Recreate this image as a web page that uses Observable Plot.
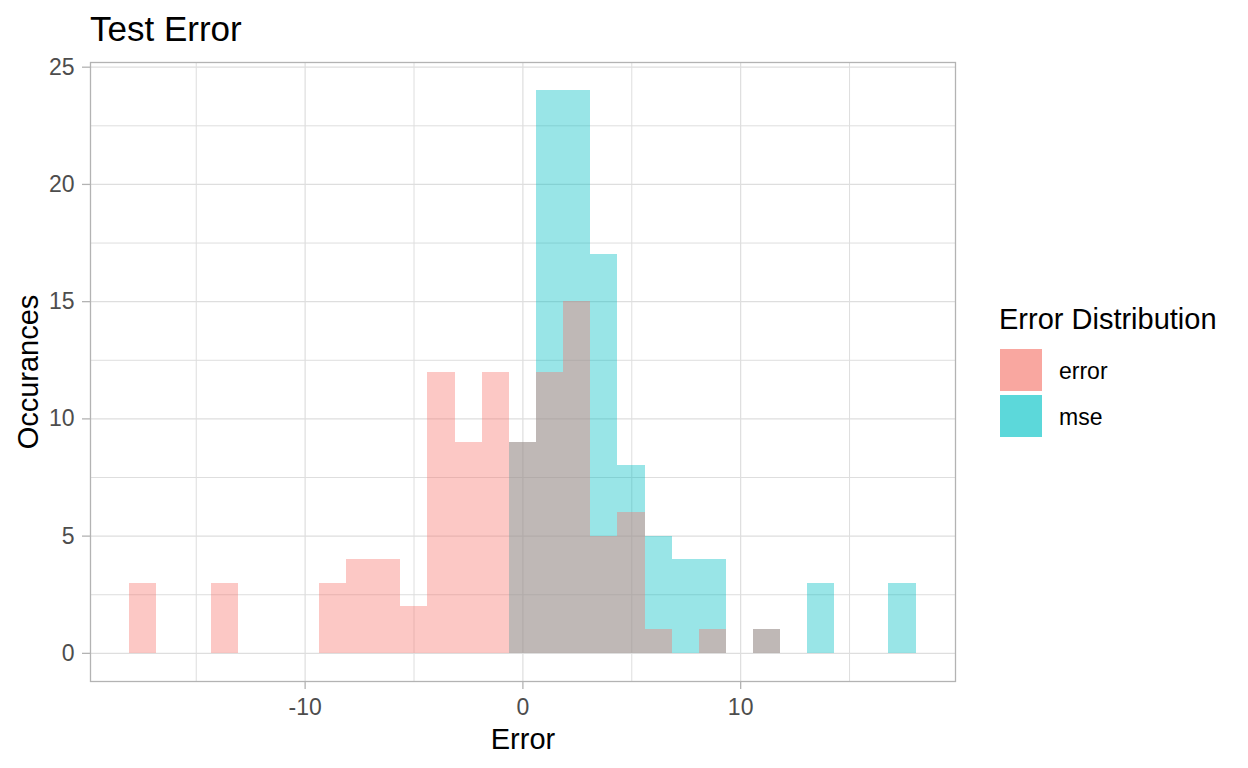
<!DOCTYPE html>
<html><head><meta charset="utf-8">
<script src="https://cdn.jsdelivr.net/npm/d3@7"></script>
<script src="https://cdn.jsdelivr.net/npm/@observablehq/plot@0.6"></script>
<style>
body{margin:0;background:#fff;font-family:"Liberation Sans",Arial,sans-serif;}
#wrap{position:relative;width:1248px;height:768px;overflow:hidden;}
#wrap svg{position:absolute;left:0;top:0;}
.title{position:absolute;left:90px;top:11px;font-size:35px;line-height:35px;color:#000;white-space:nowrap;}
.legend{position:absolute;left:999px;top:305px;}
.legend .ltitle{position:absolute;left:0;top:0;font-size:29px;line-height:29px;white-space:nowrap;color:#000;}
.legend .key{position:absolute;left:1px;width:42px;height:42px;}
.legend .lab{position:absolute;left:60px;font-size:23px;line-height:23px;color:#000;white-space:nowrap;}
</style></head>
<body><div id="wrap"></div>
<script>
// Histogram bin edges (29 bins)
const binEdges = [-18.05, -16.81, -15.56, -14.32, -13.07, -11.83, -10.58, -9.34, -8.09, -6.85,
  -5.60, -4.36, -3.11, -1.87, -0.62, 0.63, 1.87, 3.12, 4.36, 5.61,
  6.85, 8.10, 9.34, 10.59, 11.83, 13.08, 14.32, 15.57, 16.81, 18.06];
// counts per bin
const errorCounts = [3,0,0,3,0,0,0,3,4,4,2,12,9,12,9,12,15,5,6,1,0,1,0,1,0,0,0,0,0];
const mseCounts   = [0,0,0,0,0,0,0,0,0,0,0,0,0,0,9,24,24,17,8,5,4,4,0,1,0,3,0,0,3];
const seriesNames = ["error", "mse"];
const seriesColors = ["#F8766D", "#00BFC4"];
const legendColors = ["#F9A7A0", "#5CD8DA"];
const xTicks = [-10, 0, 10];
const xMinorGrid = [-15, -5, 5, 15];
const yTicks = [0, 5, 10, 15, 20, 25];
const yMinorGrid = [2.5, 7.5, 12.5, 17.5, 22.5];
const titleText = "Test Error";
const xLabel = "Error";
const yLabel = "Occurances";
const legendTitle = "Error Distribution";

function toRows(counts, name) {
  const rows = [];
  counts.forEach((c, i) => { if (c > 0) rows.push({series: name, x1: binEdges[i], x2: binEdges[i + 1], count: c}); });
  return rows;
}
const errorRows = toRows(errorCounts, seriesNames[0]);
const mseRows = toRows(mseCounts, seriesNames[1]);

const lo = binEdges[0], hi = binEdges[binEdges.length - 1];
const xpad = (hi - lo) * 0.05;
const ymax = d3.max([...errorCounts, ...mseCounts]);
const ypad = ymax * 0.05;

const gridColor = "#DEDEDE";
const fmt = d => String(d);
const plot = Plot.plot({
  width: 1248, height: 768,
  marginLeft: 90, marginRight: 293, marginTop: 62, marginBottom: 87,
  style: {fontFamily: "'Liberation Sans', Arial, sans-serif", fontSize: "23px", background: "transparent"},
  x: {domain: [lo - xpad, hi + xpad], axis: null},
  y: {domain: [-ypad, ymax + ypad], axis: null},
  marks: [
    Plot.gridX(xMinorGrid, {stroke: gridColor, strokeOpacity: 1, strokeWidth: 1}),
    Plot.gridX(xTicks, {stroke: gridColor, strokeOpacity: 1, strokeWidth: 1.2}),
    Plot.gridY(yMinorGrid, {stroke: gridColor, strokeOpacity: 1, strokeWidth: 1}),
    Plot.gridY(yTicks, {stroke: gridColor, strokeOpacity: 1, strokeWidth: 1.2}),
    Plot.rect(mseRows, {x1: "x1", x2: "x2", y1: 0, y2: "count", fill: seriesColors[1], fillOpacity: 0.4, inset: 0, shapeRendering: "crispEdges"}),
    Plot.rect(errorRows, {x1: "x1", x2: "x2", y1: 0, y2: "count", fill: seriesColors[0], fillOpacity: 0.4, inset: 0, shapeRendering: "crispEdges"}),
    Plot.frame({stroke: "#B3B3B3", strokeWidth: 1.3}),
    Plot.axisX(xTicks, {tickSize: 8, tickPadding: 9, fontSize: 23, fill: "#4D4D4D", stroke: "#B3B3B3", strokeWidth: 1.3, label: null, tickFormat: fmt}),
    Plot.axisY(yTicks, {tickSize: 8, tickPadding: 8, fontSize: 23, fill: "#4D4D4D", stroke: "#B3B3B3", strokeWidth: 1.3, label: null, tickFormat: fmt}),
    Plot.text([xLabel], {frameAnchor: "bottom", dy: 67, lineAnchor: "bottom", textAnchor: "middle", fontSize: 29, fill: "#000"}),
    Plot.text([yLabel], {frameAnchor: "left", dx: -53, rotate: -90, lineAnchor: "bottom", textAnchor: "middle", fontSize: 29, fill: "#000"})
  ]
});

const wrap = document.getElementById("wrap");
wrap.appendChild(plot);

const t = document.createElement("div");
t.className = "title"; t.textContent = titleText; wrap.appendChild(t);

const lg = document.createElement("div");
lg.className = "legend";
const lt = document.createElement("div");
lt.className = "ltitle"; lt.textContent = legendTitle; lg.appendChild(lt);
seriesNames.forEach((name, i) => {
  const k = document.createElement("div");
  k.className = "key"; k.style.top = (44 + i * 46) + "px"; k.style.background = legendColors[i];
  lg.appendChild(k);
  const l = document.createElement("div");
  l.className = "lab"; l.style.top = (55 + i * 46) + "px"; l.textContent = name;
  lg.appendChild(l);
});
wrap.appendChild(lg);
</script>
</body></html>
